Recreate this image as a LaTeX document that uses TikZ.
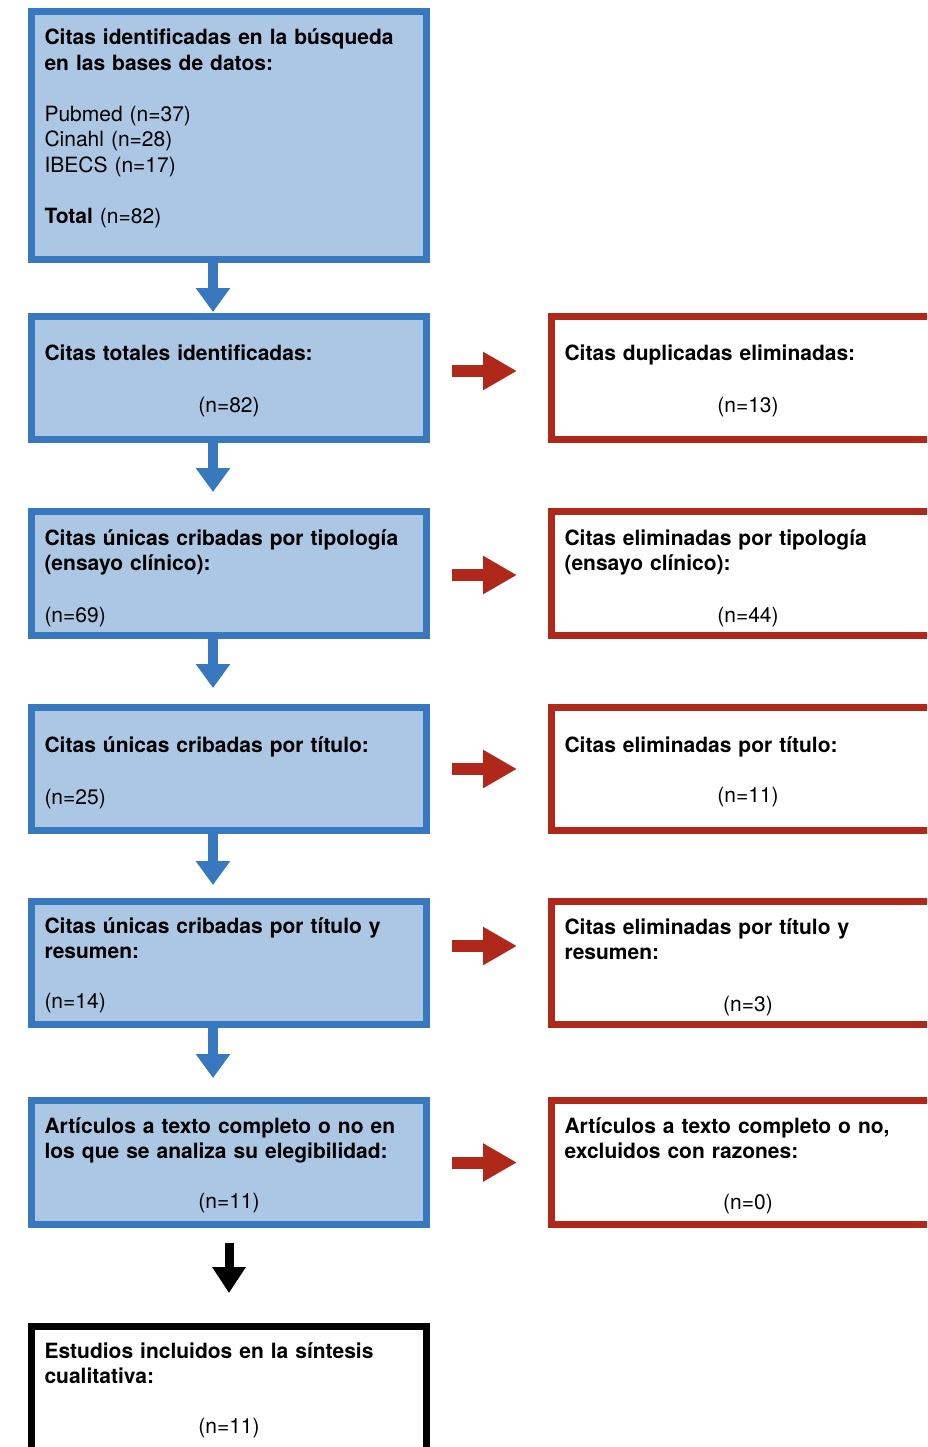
\documentclass[tikz,border=0pt]{standalone}
\usepackage{fontspec}
\setmainfont{TeX Gyre Heros}
\usetikzlibrary{arrows.meta,calc,positioning}
\definecolor{azulborde}{RGB}{55,120,191}
\definecolor{azulfondo}{RGB}{171,199,227}
\definecolor{rojo}{RGB}{176,40,26}
\setlength{\parindent}{0pt}
\tikzset{
  caja/.style={rectangle, line width=7pt, outer sep=3.5pt, inner xsep=13pt, inner ysep=0pt,
    anchor=north west, align=left, font=\fontsize{21pt}{25.5pt}\selectfont},
  cajaazul/.style={caja, draw=azulborde, fill=azulfondo, text width=369pt},
  cajaroja/.style={caja, draw=rojo, fill=white, text width=367pt},
  cajanegra/.style={caja, draw=black, fill=white, text width=369pt},
  flechaazul/.style={draw=azulborde, line width=10pt, -{Triangle[length=24pt,width=33pt]}},
  flecharoja/.style={draw=rojo, line width=12pt, -{Triangle[length=34pt,width=36pt]}},
  flechanegra/.style={draw=black, line width=9pt, -{Triangle[length=26pt,width=32pt]}}
}

\begin{document}
\begin{tikzpicture}[x=1pt,y=-1pt]
\useasboundingbox (0,0) rectangle (927,1447);
\clip (0,0) rectangle (927,1447);
% columna izquierda
\node[cajaazul] (busq) at (28,8) {\rule{0pt}{33.5pt}\textbf{Citas identificadas en la búsqueda}\\\textbf{en las bases de datos:}\\[25.5pt]Pubmed (n=37)\\Cinahl (n=28)\\IBECS (n=17)\\[25.5pt]\textbf{Total} (n=82)\rule[-36pt]{0pt}{0pt}};
\node[cajaazul] (total) at (28,313) {\rule{0pt}{43.5pt}\textbf{Citas totales identificadas:}\\[26.5pt]\rule[-27.5pt]{0pt}{0pt}\makebox[\hsize]{(n=82)}};
\node[cajaazul] (tipo) at (28,508) {\rule{0pt}{33.5pt}\textbf{Citas únicas cribadas por tipología}\\\textbf{(ensayo clínico):}\\[26pt](n=69)\rule[-13.5pt]{0pt}{0pt}};
\node[cajaazul] (titulo) at (28,704) {\rule{0pt}{44.5pt}\textbf{Citas únicas cribadas por título:}\\[26.5pt](n=25)\rule[-26.5pt]{0pt}{0pt}};
\node[cajaazul] (resum) at (28,898) {\rule{0pt}{31.5pt}\textbf{Citas únicas cribadas por título y}\\\textbf{resumen:}\\[24pt](n=14)\rule[-16.5pt]{0pt}{0pt}};
\node[cajaazul] (elegib) at (28,1097) {\rule{0pt}{32.5pt}\textbf{Artículos a texto completo o no en}\\\textbf{los que se analiza su elegibilidad:}\\[24pt]\rule[-16.5pt]{0pt}{0pt}\makebox[\hsize]{(n=11)}};
\node[cajanegra] (incl) at (28,1323) {\rule{0pt}{31.5pt}\textbf{Estudios incluidos en la síntesis}\\\textbf{cualitativa:}\\[24pt]\rule[-47pt]{0pt}{0pt}\makebox[\hsize]{(n=11)}};
% columna derecha
\node[cajaroja] (dupl) at (548,313) {\rule{0pt}{43.5pt}\textbf{Citas duplicadas eliminadas:}\\[26.5pt]\rule[-27.5pt]{0pt}{0pt}\makebox[\hsize]{(n=13)}};
\node[cajaroja] (elimtipo) at (548,508) {\rule{0pt}{33.5pt}\textbf{Citas eliminadas por tipología}\\\textbf{(ensayo clínico):}\\[26pt]\rule[-13.5pt]{0pt}{0pt}\makebox[\hsize]{(n=44)}};
\node[cajaroja] (elimtit) at (548,704) {\rule{0pt}{44.5pt}\textbf{Citas eliminadas por título:}\\[24.5pt]\rule[-28.5pt]{0pt}{0pt}\makebox[\hsize]{(n=11)}};
\node[cajaroja] (elimres) at (548,898) {\rule{0pt}{32.5pt}\textbf{Citas eliminadas por título y}\\\textbf{resumen:}\\[26pt]\rule[-13.5pt]{0pt}{0pt}\makebox[\hsize]{(n=3)}};
\node[cajaroja] (excl) at (548,1097) {\rule{0pt}{32.5pt}\textbf{Artículos a texto completo o no,}\\\textbf{excluidos con razones:}\\[25pt]\rule[-15.5pt]{0pt}{0pt}\makebox[\hsize]{(n=0)}};
% flechas
\draw[flechaazul, shorten >=1pt] ([xshift=-16pt]busq.south) -- ([xshift=-16pt]total.north);
\draw[flechaazul, shorten >=16pt] ([xshift=-16pt]total.south) -- ([xshift=-16pt]tipo.north);
\draw[flechaazul, shorten >=16pt] ([xshift=-16pt]tipo.south) -- ([xshift=-16pt]titulo.north);
\draw[flechaazul, shorten >=13pt] ([xshift=-16pt]titulo.south) -- ([xshift=-16pt]resum.north);
\draw[flechaazul, shorten >=19pt] ([xshift=-16pt]resum.south) -- ([xshift=-16pt]elegib.north);
\draw[flechanegra, shorten <=15pt, shorten >=30pt] (elegib.south) -- (incl.north);
\draw[flecharoja, shorten <=22pt, shorten >=31pt] ([yshift=7pt]total.east) -- ([yshift=7pt]dupl.west);
\draw[flecharoja, shorten <=22pt, shorten >=31pt] ([yshift=-1.5pt]tipo.east) -- ([yshift=-1.5pt]elimtipo.west);
\draw[flecharoja, shorten <=22pt, shorten >=31pt] (titulo.east) -- (elimtit.west);
\draw[flecharoja, shorten <=22pt, shorten >=31pt] ([yshift=17pt]resum.east) -- ([yshift=17pt]elimres.west);
\draw[flecharoja, shorten <=22pt, shorten >=31pt] (elegib.east) -- (excl.west);
\end{tikzpicture}
\end{document}
